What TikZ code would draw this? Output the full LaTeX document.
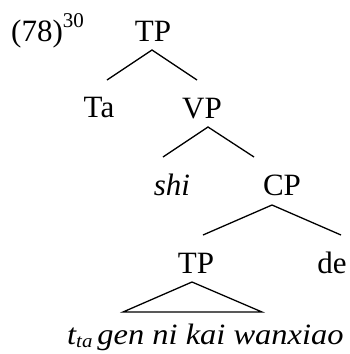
\documentclass[tikz,border=0pt]{standalone}
\usepackage{fontspec}
\setmainfont{Liberation Serif}
\newfontfamily\stretchedit[FakeStretch=1.1]{Liberation Serif}
\begin{document}
\begin{tikzpicture}[x=1pt,y=-1pt,
  lbl/.style={anchor=base,inner sep=0pt,font=\fontsize{31}{34}\selectfont},
  branch/.style={line width=1.3pt,line join=miter}]
\useasboundingbox (0,0) rectangle (350,354);
% example number and labels
\node[lbl,anchor=base west] (num) at (11,41) {(78)\raisebox{14pt}{\fontsize{21}{22}\selectfont 30}};
\node[lbl] (tp1) at (153,41) {TP};
\node[lbl] (ta) at (99,117) {Ta};
\node[lbl] (vp) at (202,118) {VP};
\node[lbl] (shi) at (172,195) {\itshape shi};
\node[lbl] (cp) at (282,195) {CP};
\node[lbl] (tp2) at (196,273) {TP};
\node[lbl] (de) at (332,273) {de};
\node[lbl,anchor=base west] (str) at (67,344)
  {\stretchedit\itshape\fontsize{29.5}{32}\selectfont t\raisebox{-3pt}{\fontsize{19}{19}\selectfont ta}\hspace{5pt}gen ni kai wanxiao};
% branch points
\coordinate (tp1a) at (152,50);
\coordinate (tal) at (107,80);
\coordinate (vpr) at (197,80);
\coordinate (vpa) at (208,127);
\coordinate (shil) at (163,157);
\coordinate (cpr) at (254,157);
\coordinate (cpa) at (272,205);
\coordinate (tp2l) at (203,235);
\coordinate (der) at (341,235);
\coordinate (tria) at (192,282);
\coordinate (tril) at (123,312);
\coordinate (trir) at (262,312);
% branches
\draw[branch] (tal) -- (tp1a) -- (vpr);
\draw[branch] (shil) -- (vpa) -- (cpr);
\draw[branch] (tp2l) -- (cpa) -- (der);
\draw[branch] (tril) -- (tria) -- (trir) -- cycle;
\end{tikzpicture}
\end{document}
